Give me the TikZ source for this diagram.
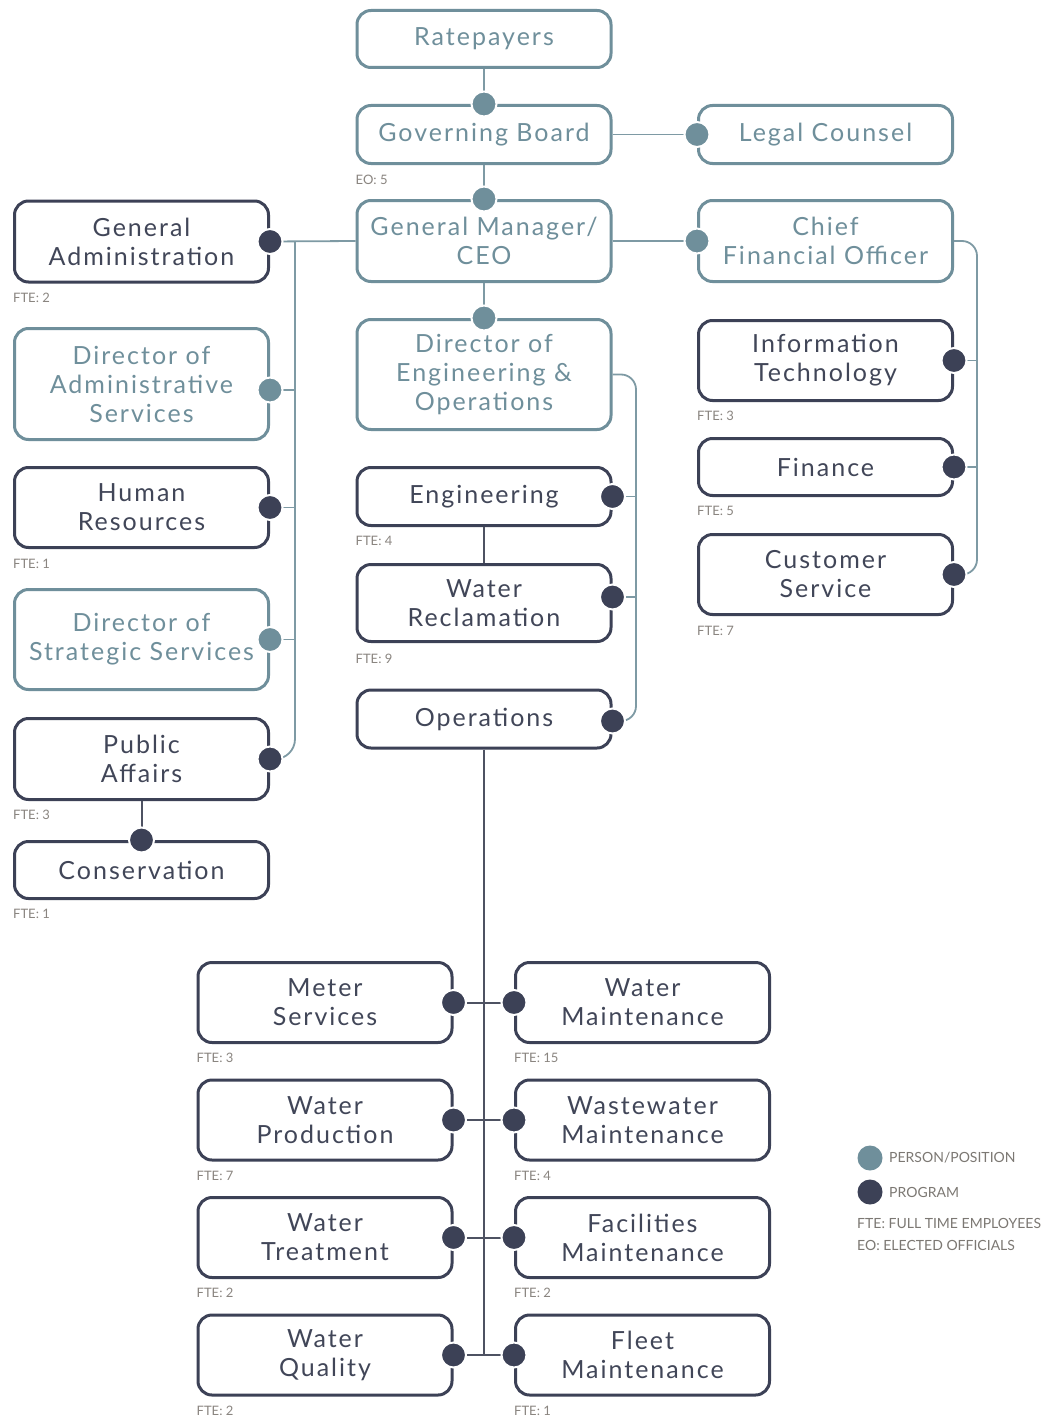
\documentclass[tikz,border=0pt]{standalone}
\usepackage{fontspec}
\setmainfont{Lato}
\newfontfamily\boxfont{Lato}[LetterSpace=8]
\definecolor{pcol}{HTML}{6F8F9B}
\definecolor{dcol}{HTML}{3C4156}
\definecolor{tcol}{HTML}{414658}
\definecolor{lcol}{HTML}{7E9AA4}
\definecolor{gcol}{HTML}{4E5262}
\definecolor{fcol}{HTML}{8A8580}
\tikzset{
  box/.style={rectangle, rounded corners=14pt, line width=3pt, minimum width=254pt, align=center, font=\boxfont\fontsize{25}{29}\selectfont, inner sep=0pt},
  pbox/.style={box, draw=pcol, text=pcol},
  dbox/.style={box, draw=dcol, text=tcol},
  pdot/.style={circle, fill=pcol, draw=white, line width=2pt, minimum size=25pt, inner sep=0pt},
  ddot/.style={circle, fill=dcol, draw=white, line width=2pt, minimum size=25pt, inner sep=0pt},
  conL/.style={draw=lcol, line width=1.8pt},
  conD/.style={draw=gcol, line width=2pt},
  fte/.style={anchor=west, font=\fontsize{13}{13}\selectfont, text=fcol, inner sep=0pt},
  leg/.style={anchor=west, font=\fontsize{14}{14}\selectfont, text=fcol!90!black, inner sep=0pt},
}
\begin{document}
\begin{tikzpicture}[x=1pt,y=-1pt]
\useasboundingbox[fill=white] (0,0) rectangle (1047,1418);
% top column
\node[pbox, minimum height=57pt] (rp) at (484,39) {Ratepayers};
\node[pbox, minimum height=58pt] (gb) at (484,134.5) {Governing Board};
\node[pbox, minimum height=58pt] (lc) at (825.5,134.5) {Legal Counsel};
\node[pbox, minimum height=81pt] (gm) at (484,241) {General Manager/\\CEO};
\node[pbox, minimum height=81pt] (cfo) at (825.5,241) {Chief\\Financial Officer};
% left column
\node[dbox, minimum height=81pt] (ga) at (141.5,241.5) {General\\Administration};
\node[pbox, minimum height=111pt] (das) at (141.5,384) {Director of\\Administrative\\Services};
\node[dbox, minimum height=80pt] (hr) at (141.5,507.5) {Human\\Resources};
\node[pbox, minimum height=100pt] (dss) at (141.5,639.5) {Director of\\Strategic Services};
\node[dbox, minimum height=81pt] (pa) at (141.5,759) {Public\\Affairs};
\node[dbox, minimum height=57pt] (cons) at (141.5,870) {Conservation};
% middle column
\node[pbox, minimum height=110pt] (deo) at (484,374.5) {Director of\\Engineering \&\\Operations};
\node[dbox, minimum height=58pt] (eng) at (484,496.5) {Engineering};
\node[dbox, minimum height=77pt] (wr) at (484,603) {Water\\Reclamation};
\node[dbox, minimum height=58pt] (ops) at (484,719) {Operations};
% right column
\node[dbox, minimum height=80pt] (it) at (825.5,360.5) {Information\\Technology};
\node[dbox, minimum height=57pt] (fin) at (825.5,467) {Finance};
\node[dbox, minimum height=80pt] (cs) at (825.5,574.5) {Customer\\Service};
% bottom grid
\node[dbox, minimum height=80pt] (ms) at (325,1002.5) {Meter\\Services};
\node[dbox, minimum height=80pt] (wm) at (642.5,1002.5) {Water\\Maintenance};
\node[dbox, minimum height=80pt] (wp) at (325,1120) {Water\\Production};
\node[dbox, minimum height=80pt] (wwm) at (642.5,1120) {Wastewater\\Maintenance};
\node[dbox, minimum height=80pt] (wt) at (325,1237.5) {Water\\Treatment};
\node[dbox, minimum height=80pt] (fm) at (642.5,1237.5) {Facilities\\Maintenance};
\node[dbox, minimum height=80pt] (wq) at (325,1355) {Water\\Quality};
\node[dbox, minimum height=80pt] (flm) at (642.5,1355) {Fleet\\Maintenance};
% connection points off centre
\coordinate (dasp) at ([yshift=-6pt]das.east);
\coordinate (wrp) at ([yshift=6pt]wr.east);
\coordinate (opsp) at ([yshift=-2pt]ops.east);
% labels
\node[fte] (eo) at ([yshift=-15pt]gb.south west) {EO: 5};
\node[fte] (f1) at ([yshift=-14pt]ga.south west) {FTE: 2};
\node[fte] (f2) at ([yshift=-15pt]hr.south west) {FTE: 1};
\node[fte] (f3) at ([yshift=-14pt]pa.south west) {FTE: 3};
\node[fte] (f4) at ([yshift=-14pt]cons.south west) {FTE: 1};
\node[fte] (f5) at ([yshift=-14pt]eng.south west) {FTE: 4};
\node[fte] (f6) at ([yshift=-16pt]wr.south west) {FTE: 9};
\node[fte] (f7) at ([yshift=-14pt]it.south west) {FTE: 3};
\node[fte] (f8) at ([yshift=-14pt]fin.south west) {FTE: 5};
\node[fte] (f9) at ([yshift=-15pt]cs.south west) {FTE: 7};
\node[fte] (f10) at ([yshift=-14pt]ms.south west) {FTE: 3};
\node[fte] (f11) at ([yshift=-14pt]wm.south west) {FTE: 15};
\node[fte] (f12) at ([yshift=-14pt]wp.south west) {FTE: 7};
\node[fte] (f13) at ([yshift=-14pt]wwm.south west) {FTE: 4};
\node[fte] (f14) at ([yshift=-14pt]wt.south west) {FTE: 2};
\node[fte] (f15) at ([yshift=-14pt]fm.south west) {FTE: 2};
\node[fte] (f16) at ([yshift=-14pt]wq.south west) {FTE: 2};
\node[fte] (f17) at ([yshift=-14pt]flm.south west) {FTE: 1};
% connectors
\draw[conL] (rp.south) -- (gb.north);
\draw[conL] (gb.south) -- (gm.north);
\draw[conL] (gb.east) -- (lc.west);
\draw[conL] (gm.east) -- (cfo.west);
\draw[conL] (gm.west) -- (ga.east);
\draw[conL] (gm.south) -- (deo.north);
\coordinate (lb) at (295,241);
\draw[conL, rounded corners=20pt] (lb) |- (pa.east);
\draw[conL] (dasp) -- (dasp -| lb);
\draw[conL] (hr.east) -- (hr.east -| lb);
\draw[conL] (dss.east) -- (dss.east -| lb);
\coordinate (mb) at (636,374.5);
\draw[conL, rounded corners=15pt] (deo.east) -- (mb) |- (opsp);
\draw[conL] (eng.east) -- (eng.east -| mb);
\draw[conL] (wrp) -- (wrp -| mb);
\coordinate (rb) at (977,241);
\draw[conL, rounded corners=15pt] (cfo.east) -- (rb) |- (cs.east);
\draw[conL] (it.east) -- (it.east -| rb);
\draw[conL] (fin.east) -- (fin.east -| rb);
\draw[conD] (eng.south) -- (wr.north);
\draw[conD] (pa.south) -- (cons.north);
\draw[conD] (ops.south) -- (ops.south |- wq.east);
\draw[conD] (ms.east) -- (wm.west);
\draw[conD] (wp.east) -- (wwm.west);
\draw[conD] (wt.east) -- (fm.west);
\draw[conD] (wq.east) -- (flm.west);
% dots
\foreach \a in {gb.north, gm.north, lc.west, cfo.west, dasp, dss.east, deo.north}
  \node[pdot] at (\a) {};
\foreach \a in {ga.east, hr.east, pa.east, cons.north, eng.east, wrp, opsp, it.east, fin.east, cs.east, ms.east, wm.west, wp.east, wwm.west, wt.east, fm.west, wq.east, flm.west}
  \node[ddot] at (\a) {};
% legend
\node[pdot, draw=none] (lgp) at (870,1158) {};
\node[leg] (lgpt) at (889,1158) {PERSON/POSITION};
\node[ddot, draw=none] (lgd) at (870,1192) {};
\node[leg] (lgdt) at (889,1192) {PROGRAM};
\node[leg] (lgf) at (857,1223) {FTE: FULL TIME EMPLOYEES};
\node[leg] (lge) at (857,1245) {EO: ELECTED OFFICIALS};
\end{tikzpicture}
\end{document}
